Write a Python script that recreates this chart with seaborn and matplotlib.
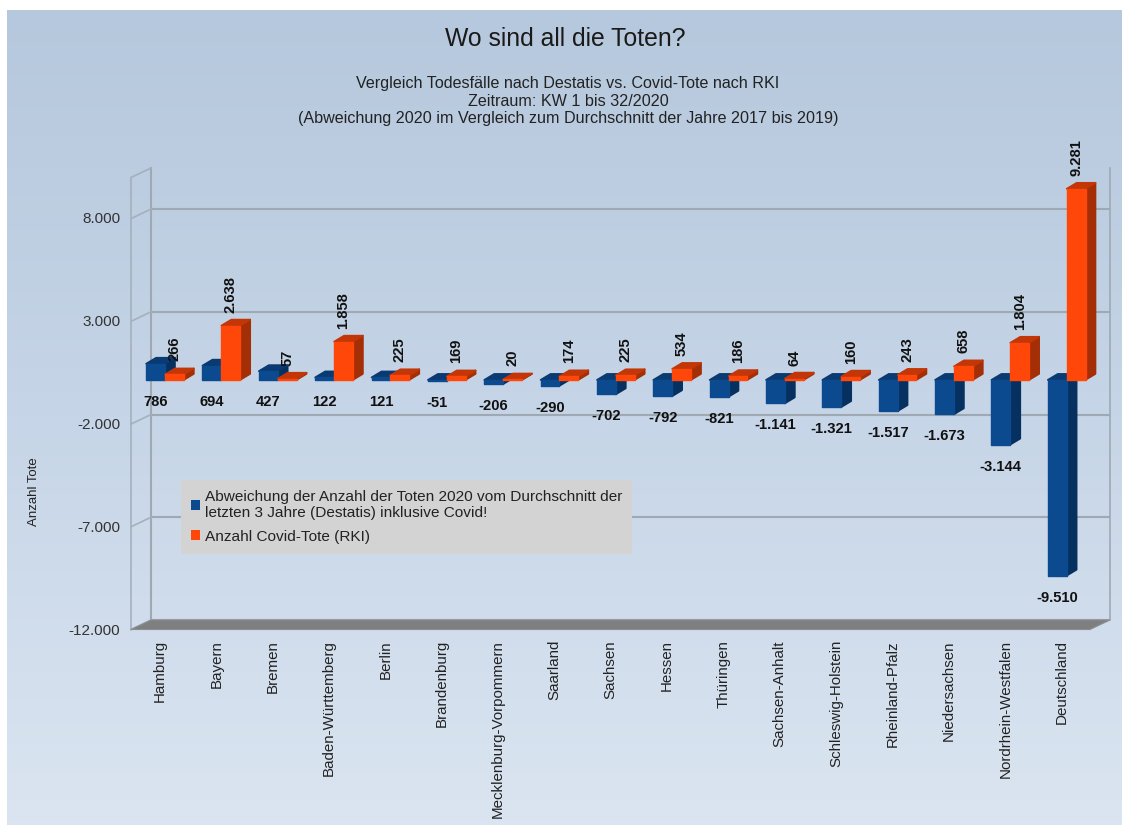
import numpy as np
import pandas as pd
import matplotlib
matplotlib.use("Agg")
import matplotlib.pyplot as plt
from matplotlib.colors import LinearSegmentedColormap
from matplotlib.lines import Line2D
from matplotlib.patches import Polygon
from matplotlib.ticker import FuncFormatter
from matplotlib.transforms import IdentityTransform, ScaledTranslation
import seaborn as sns

# ---- data ----
states = ["Hamburg", "Bayern", "Bremen", "Baden-Württemberg", "Berlin", "Brandenburg",
          "Mecklenburg-Vorpommern", "Saarland", "Sachsen", "Hessen", "Thüringen",
          "Sachsen-Anhalt", "Schleswig-Holstein", "Rheinland-Pfalz", "Niedersachsen",
          "Nordrhein-Westfalen", "Deutschland"]
deviation = [786, 694, 427, 122, 121, -51, -206, -290, -702, -792, -821,
             -1141, -1321, -1517, -1673, -3144, -9510]
covid = [266, 2638, 57, 1858, 225, 169, 20, 174, 225, 534, 186, 64, 160, 243, 658, 1804, 9281]
y_ticks = [-12000, -7000, -2000, 3000, 8000]
series_a = "Abweichung der Anzahl der Toten 2020 vom Durchschnitt der\nletzten 3 Jahre (Destatis) inklusive Covid!"
series_b = "Anzahl Covid-Tote (RKI)"
title = "Wo sind all die Toten?"
subtitle = ("Vergleich Todesfälle nach Destatis vs. Covid-Tote nach RKI\n"
            "Zeitraum: KW 1 bis 32/2020\n"
            "(Abweichung 2020 im Vergleich zum Durchschnitt der Jahre 2017 bis 2019)")

W, H = 1122, 825
FONT = "Liberation Sans"
sns.set_theme(style="white")
plt.rcParams["font.family"] = [FONT, "DejaVu Sans"]

def px_axes(fig, left, top, right, bottom, **kw):
    return fig.add_axes([left / W, 1 - bottom / H, (right - left) / W, (bottom - top) / H], **kw)

fmt = lambda v: f"{int(v):,}".replace(",", ".")

fig = plt.figure(figsize=(W / 100, H / 100), dpi=100, facecolor="white")

# background panel with vertical gradient
bg = px_axes(fig, 7, 10, W, H, zorder=0)
cmap = LinearSegmentedColormap.from_list("bg", ["#b6c8dd", "#c6d5e7", "#dbe5f1"])
bg.imshow(np.linspace(0, 1, 256)[:, None], aspect="auto", cmap=cmap)
bg.axis("off")

# back wall with grid lines
GRID = "#9fa9b3"
back = px_axes(fig, 151, 168, 1110, 620, zorder=1)
back.set_facecolor("none")
back.set_ylim(-12000, 10000)
back.set_xlim(0, 1)
back.set_xticks([])
back.set_yticks(y_ticks)
back.tick_params(left=False, labelleft=False, length=0)
back.grid(axis="y", color=GRID, lw=1.5)
for s in ["top", "bottom"]:
    back.spines[s].set_visible(False)
back.spines["left"].set_color(GRID)
back.spines["left"].set_linewidth(1.5)
back.spines["right"].set_color(GRID)
back.spines["right"].set_linewidth(1.2)

# bar plane
ax = px_axes(fig, 136.8, 174, 1094.8, 627, zorder=2)
df = pd.DataFrame({
    "state": states * 2,
    "value": deviation + covid,
    "series": [series_a] * len(states) + [series_b] * len(states),
})
sns.barplot(data=df, x="state", y="value", hue="series", ax=ax, width=0.67, gap=0,
            palette=["#0b4a8e", "#ff470a"], saturation=1, dodge=True)
ax.set_facecolor("none")
ax.set_ylim(-12000, 10000)
ax.set_xlim(-0.5, len(states) - 0.5)
ax.set_xlabel("")
ax.set_ylabel("Anzahl Tote", fontsize=9.5, color="#222222", labelpad=0)
ax.yaxis.set_label_coords(40 / W, 1 - 492 / H, transform=fig.transFigure)
for s in ax.spines.values():
    s.set_visible(False)
ax.set_yticks(y_ticks)
ax.yaxis.set_major_formatter(FuncFormatter(lambda v, _: fmt(v)))
ax.tick_params(axis="y", left=False, length=0, pad=12, labelsize=11, labelcolor="#333333")
ax.tick_params(axis="x", bottom=False, length=0, pad=9.4, labelsize=10.9, labelcolor="#222222")
shift_x = ScaledTranslation(-5 / 100, 0, fig.dpi_scale_trans)
shift_y = ScaledTranslation(0, -2.5 / 100, fig.dpi_scale_trans)
for lab in ax.get_xticklabels():
    lab.set_rotation(90)
    lab.set_ha("center")
    lab.set_va("top")
    lab.set_transform(lab.get_transform() + shift_x)
for lab in ax.get_yticklabels():
    lab.set_transform(lab.get_transform() + shift_y)

# left wall, floor: derived from the back-wall scale
fig.canvas.draw()
px = IdentityTransform()
DX, DY = 20, 9.5
to_px = back.transData
x0_back = back.transAxes.transform((0, 0))[0]
x1_back = back.transAxes.transform((1, 0))[0]
for v in y_ticks + [10000]:
    yp = to_px.transform((0, v))[1]
    fig.add_artist(Line2D([x0_back - DX, x0_back], [yp - DY, yp], color="#a4b0bd", lw=1.2,
                          transform=px, zorder=3))
ybot = to_px.transform((0, -12000))[1]
ytop = to_px.transform((0, 10000))[1]
fig.add_artist(Line2D([x0_back - DX] * 2, [ybot - DY, ytop - DY], color="#a4b0bd", lw=1.2,
                      transform=px, zorder=3))
fig.add_artist(Polygon([(x0_back - DX, ybot - DY), (x0_back, ybot), (x1_back, ybot),
                        (x1_back - DX, ybot - DY)], closed=True, facecolor="#7f7f7f",
                       edgecolor="#8a8f94", lw=0.8, transform=px, zorder=3))

# 3-D extrusion derived from the bars
BX, BY = 10, 6
shades = [("#06305f", "#0a3a72"), ("#a42e05", "#c23608")]
for k, cont in enumerate(ax.containers):
    side_c, top_c = shades[k]
    for bar in cont:
        x, w = bar.get_x(), bar.get_width()
        y0, y1 = sorted((bar.get_y(), bar.get_y() + bar.get_height()))
        (xa, ya), (xb, yb) = ax.transData.transform([(x, y0), (x + w, y1)])
        side = [(xb, ya), (xb + BX, ya + BY), (xb + BX, yb + BY), (xb, yb)]
        top = [(xa, yb), (xa + BX, yb + BY), (xb + BX, yb + BY), (xb, yb)]
        z = bar.get_zorder()
        for pts, col in ((side, side_c), (top, top_c)):
            ax.add_patch(Polygon(pts, closed=True, facecolor=col, edgecolor=col, lw=1.2,
                                 joinstyle="round", transform=px, zorder=z + k * 0.1,
                                 clip_on=False))
        bar.set_edgecolor(bar.get_facecolor())
        bar.set_linewidth(1.0)
        bar.set_joinstyle("round")
        bar.set_zorder(z + k * 0.1 + 0.05)

# value labels
for bar, v in zip(ax.containers[0], deviation):
    ax.annotate(fmt(v), (bar.get_x() + bar.get_width() / 2, min(v, 0)),
                xytext=(0, -22), textcoords="offset pixels", ha="center", va="center",
                fontsize=10.6, fontweight="bold", color="#111111", zorder=6)
for bar, v in zip(ax.containers[1], covid):
    ax.annotate(fmt(v), (bar.get_x() + bar.get_width() / 2, v),
                xytext=(0, 13), textcoords="offset pixels", ha="center", va="bottom",
                rotation=90, fontsize=10.6, fontweight="bold", color="#111111", zorder=6)

# legend
leg = ax.legend(loc="upper left", bbox_to_anchor=(181 / W, 1 - 480 / H),
                bbox_transform=fig.transFigure, frameon=True, fancybox=False,
                facecolor="#d3d3d3", edgecolor="none", framealpha=1, borderaxespad=0,
                fontsize=11.04, handlelength=0.6, handleheight=0.6, handletextpad=0.3,
                labelspacing=0.62, borderpad=0.65, labelcolor="#222222", title=None)
for h in leg.legend_handles:
    h.set_edgecolor("none")
leg.set_zorder(5)

# titles
fig.text(565 / W, 1 - 39 / H, title, ha="center", va="center", fontsize=17.8, color="#1a1a1a")
fig.text(568 / W, 1 - 101 / H, subtitle, ha="center", va="center", fontsize=11.65,
         color="#222222", linespacing=1.2)

fig.savefig("out.png", dpi=100)
